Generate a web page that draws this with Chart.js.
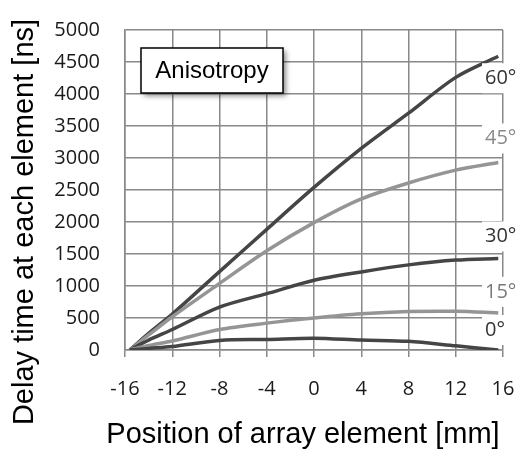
<!DOCTYPE html>
<html>
<head>
<meta charset="utf-8">
<script src="https://cdn.jsdelivr.net/npm/chart.js@4"></script>
<style>
  html, body { margin: 0; padding: 0; background: #fff; overflow: hidden; }
  canvas { display: block; }
</style>
</head>
<body>
<canvas id="chart" width="516" height="452"></canvas>
<script>
// positions of the array elements [mm]
const positions = [-15.6, -14, -12, -8, -4, 0, 4, 8, 12, 15.6];
const xTicks = [-16, -12, -8, -4, 0, 4, 8, 12, 16];

// delay time at each element [ns]
const delay0 = [0, 25, 55, 150, 165, 185, 155, 135, 65, 0];
const delay15 = [0, 70, 140, 320, 420, 500, 565, 600, 605, 580];
const delay30 = [0, 155, 320, 670, 880, 1090, 1220, 1330, 1405, 1430];
const delay45 = [0, 235, 520, 1040, 1550, 1990, 2360, 2610, 2810, 2930];
const delay60 = [0, 260, 560, 1225, 1885, 2540, 3150, 3700, 4260, 4590];

const angleLabels = ['0°', '15°', '30°', '45°', '60°'];

const dark = '#454545';
const light = '#959595';

const series = [
  { label: angleLabels[0], data: delay0, color: dark, text: '#333', shift: -20 },
  { label: angleLabels[1], data: delay15, color: light, text: '#7a7a7a', shift: -21 },
  { label: angleLabels[2], data: delay30, color: dark, text: '#333', shift: -22 },
  { label: angleLabels[3], data: delay45, color: light, text: '#8a8a8a', shift: -24 },
  { label: angleLabels[4], data: delay60, color: dark, text: '#333', shift: 22 }
];

const tickFont = { family: 'Open Sans', size: 20 };
const titleFont = '29px "Liberation Sans", Arial, sans-serif';

// drop the label padding Chart.js adds around the plot, the layout padding sets it
const noPad = s => {
  s.paddingTop = 0; s.paddingBottom = 0; s.paddingLeft = 0; s.paddingRight = 0;
};

// end labels, box and axis titles
const decor = {
  id: 'decor',
  afterDatasetsDraw(chart) {
    const { ctx, chartArea, scales: { y } } = chart;
    ctx.save();
    ctx.font = '20px "Open Sans"';
    ctx.textBaseline = 'middle';
    ctx.textAlign = 'left';
    series.forEach(s => {
      const last = s.data[s.data.length - 1];
      const cy = y.getPixelForValue(last) + s.shift;
      ctx.fillStyle = '#fff';
      ctx.fillRect(chartArea.right - 21, cy - 15, 40, 30);
      ctx.fillStyle = s.text;
      ctx.fillText(s.label, chartArea.right - 18, cy);
    });

    // Anisotropy box
    const bx = chartArea.left + 16, by = chartArea.top + 18, bw = 142, bh = 45;
    ctx.save();
    ctx.shadowColor = 'rgba(0,0,0,0.45)';
    ctx.shadowBlur = 5;
    ctx.shadowOffsetX = 3;
    ctx.shadowOffsetY = 3;
    ctx.fillStyle = '#fff';
    ctx.fillRect(bx, by, bw, bh);
    ctx.restore();
    ctx.strokeStyle = '#000';
    ctx.lineWidth = 1.5;
    ctx.strokeRect(bx, by, bw, bh);
    ctx.fillStyle = '#000';
    ctx.font = '24px "Liberation Sans", Arial, sans-serif';
    ctx.textAlign = 'center';
    ctx.textBaseline = 'alphabetic';
    ctx.fillText('Anisotropy', bx + bw / 2, by + 30);

    // axis titles
    ctx.font = titleFont;
    ctx.fillStyle = '#000';
    ctx.fillText('Position of array element [mm]', 303, 443);
    ctx.translate(33, 222);
    ctx.rotate(-Math.PI / 2);
    ctx.fillText('Delay time at each element [ns]', 0, 0);
    ctx.restore();
  }
};

new Chart(document.getElementById('chart'), {
  type: 'line',
  data: {
    datasets: series.map(s => ({
      label: s.label,
      data: positions.map((p, i) => ({ x: p, y: s.data[i] })),
      borderColor: s.color,
      borderWidth: 3.5,
      pointRadius: 0,
      tension: 0.3,
      fill: false
    }))
  },
  options: {
    responsive: false,
    animation: false,
    layout: { padding: { left: 0, top: 30, right: 13, bottom: 0 } },
    plugins: { legend: { display: false }, tooltip: { enabled: false } },
    scales: {
      x: {
        type: 'linear',
        min: -16,
        max: 16,
        afterFit: s => { s.height = 102; noPad(s); },
        afterBuildTicks: s => { s.ticks = xTicks.map(v => ({ value: v })); },
        grid: { color: '#888', lineWidth: 1.5, tickLength: 7, drawTicks: true },
        border: { color: '#888', width: 1.5 },
        ticks: { font: tickFont, color: '#1a1a1a', padding: 20, maxRotation: 0 }
      },
      y: {
        min: 0,
        max: 5000,
        afterFit: s => { s.width = 125; noPad(s); },
        grid: { color: '#888', lineWidth: 1.5, drawTicks: false },
        border: { color: '#888', width: 1.5 },
        ticks: { stepSize: 500, font: tickFont, color: '#1a1a1a', padding: 25, callback: v => String(v) }
      }
    }
  },
  plugins: [decor]
});
</script>
</body>
</html>
